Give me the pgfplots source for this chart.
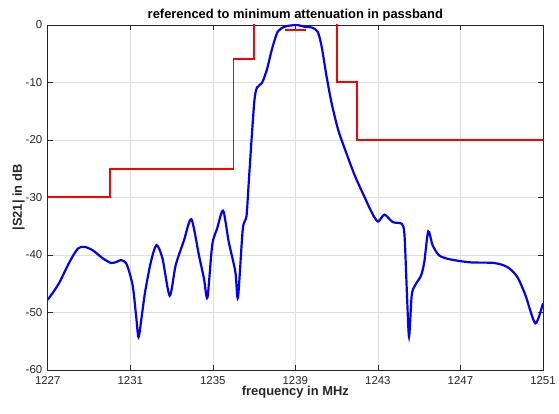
\documentclass[border=0pt]{standalone}
\usepackage{pgfplots}
\pgfplotsset{compat=1.18}
\usepackage{fontspec}
\setmainfont{Liberation Sans}
\definecolor{axgray}{rgb}{0.15,0.15,0.15}
\definecolor{gridgray}{rgb}{0.87,0.87,0.87}
\begin{document}
\begin{tikzpicture}
\begin{axis}[
  scale only axis,
  width=498pt, height=347pt,
  xmin=1227, xmax=1251, ymin=-60, ymax=0,
  xtick={1227,1231,1235,1239,1243,1247,1251},
  xticklabels={1227,1231,1235,1239,1243,1247,1251},
  ytick={-60,-50,-40,-30,-20,-10,0},
  yticklabels={-60,-50,-40,-30,-20,-10,0},
  tick align=inside,
  tick pos=both,
  major tick length=5pt,
  grid=major,
  major grid style={gridgray, line width=0.6pt},
  axis line style={axgray, line width=0.6pt},
  every tick/.style={axgray, line width=0.6pt},
  tick label style={font=\fontsize{11.5}{13}\selectfont, text=axgray},
  xticklabel style={yshift=-3pt},
  yticklabel style={xshift=-2pt},
  label style={font=\bfseries\fontsize{13}{15}\selectfont, text=axgray},
  title style={font=\bfseries\fontsize{13}{15}\selectfont, text=black, yshift=-6pt},
  title={referenced to minimum attenuation in passband},
  xlabel={frequency in MHz},
  ylabel={|S21| in dB},
  xlabel style={yshift=5pt},
  ylabel style={yshift=-6pt},
  clip=true,
]
\addplot[red, line width=1.8pt, line join=miter] coordinates {
(1227,-30)(1230,-30)(1230,-25)(1236,-25)(1236,-6)(1237,-6)(1237,5)};
\addplot[red, line width=1.8pt] coordinates {(1238.52,-0.9)(1239.5,-0.9)};
\addplot[red, line width=1.8pt, line join=miter] coordinates {
(1241,5)(1241,-10)(1242,-10)(1242,-20)(1251,-20)};
\addplot[blue, line width=2.2pt, smooth, tension=0.45] coordinates {
(1227.0,-47.8)(1227.3,-46.3)(1227.58,-44.7)(1228.06,-41.2)(1228.46,-38.9)(1228.78,-38.6)
(1229.18,-39.2)(1229.67,-40.6)(1230.07,-41.4)(1230.35,-41.2)(1230.55,-40.9)(1230.82,-41.6)
(1231.11,-45.2)(1231.28,-50.5)(1231.40,-54.3)(1231.55,-50.8)(1231.72,-46.4)(1232.0,-41.2)(1232.27,-38.3)
(1232.56,-40.6)(1232.91,-47.1)(1233.20,-41.8)(1233.60,-37.5)(1233.96,-33.8)
(1234.33,-40.1)(1234.57,-44.1)(1234.74,-47.4)(1234.97,-38.3)(1235.21,-35.4)(1235.50,-32.3)
(1235.77,-37.7)(1236.09,-42.9)(1236.22,-47.4)(1236.45,-35.6)(1236.63,-33.3)(1236.73,-28.0)
(1236.89,-19.3)(1237.02,-13.0)(1237.14,-10.9)(1237.38,-10.1)(1237.62,-7.8)(1237.86,-4.3)
(1238.15,-1.15)(1238.5,-0.3)(1238.8,-0.1)(1239.06,0.0)(1239.3,-0.2)(1239.47,-0.35)(1239.79,-0.45)
(1240.08,-1.2)(1240.27,-3.7)(1240.51,-8.9)(1240.75,-13.5)(1241.07,-18.2)(1241.40,-21.6)
(1241.88,-26.2)(1242.36,-30.0)(1242.7,-32.6)(1243.0,-34.2)(1243.32,-33.0)(1243.72,-34.3)(1244.16,-34.6)
(1244.29,-36.6)(1244.41,-47.0)(1244.51,-54.2)(1244.64,-47.0)(1244.80,-45.3)(1245.09,-43.6)
(1245.25,-41.2)(1245.44,-35.9)(1245.65,-38.3)(1245.97,-40.1)(1246.53,-40.8)(1247.50,-41.3)
(1248.62,-41.4)(1249.27,-42.1)(1249.75,-43.8)(1250.15,-47.0)(1250.63,-51.9)(1251.0,-48.4)};
\end{axis}
\path (current axis.south west) ++(-48pt,-44pt) coordinate (bbA);
\path (current axis.north east) ++(13pt,25pt) coordinate (bbB);
\useasboundingbox (bbA) rectangle (bbB);
\end{tikzpicture}
\end{document}
